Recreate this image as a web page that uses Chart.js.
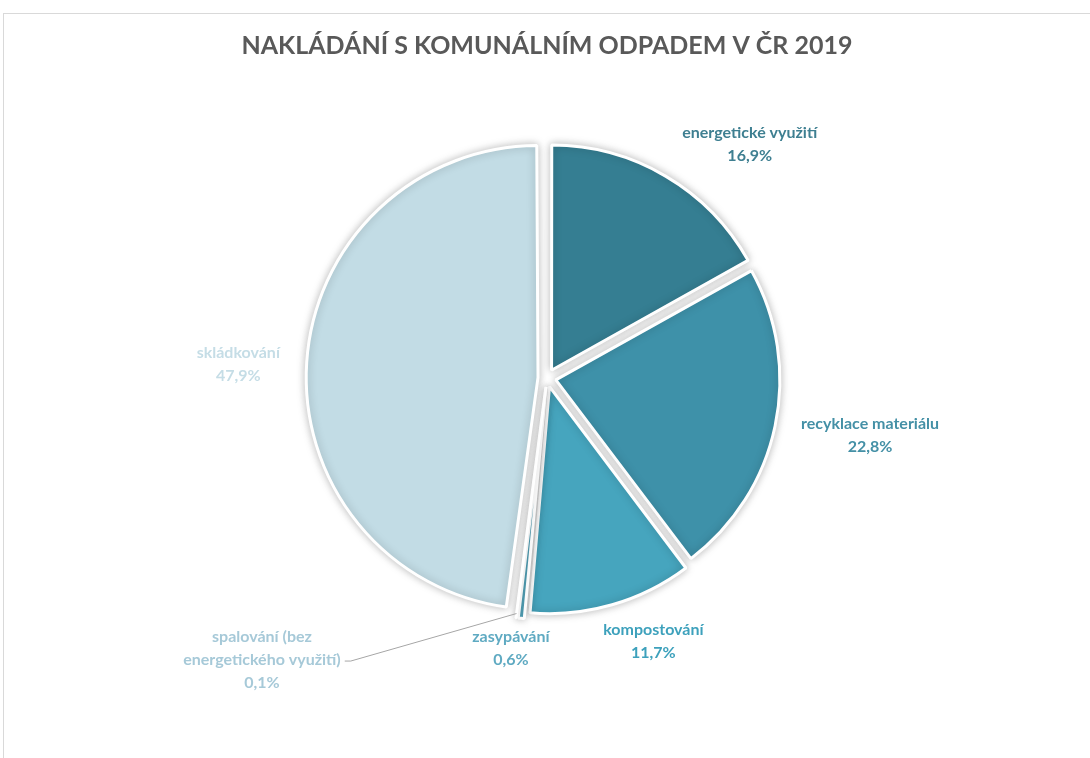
<!DOCTYPE html>
<html>
<head>
    <meta charset="UTF-8">
    <title>Nakládání s komunálním odpadem v ČR 2019</title>
    <script src="https://cdn.jsdelivr.net/npm/chart.js"></script>
    <style>
        html, body {
            margin: 0;
            padding: 0;
            background: #ffffff;
            overflow: hidden;
        }
        #frame {
            position: absolute;
            left: 3px;
            top: 13px;
            width: 1100px;
            height: 760px;
            border-top: 1px solid #d9d9d9;
            border-left: 1px solid #d9d9d9;
        }
        #chart {
            position: absolute;
            left: 0;
            top: 0;
        }
    </style>
</head>
<body>
<div id="frame"></div>
<canvas id="chart" width="1090" height="758"></canvas>

<script>
    // Data
    const categories = [
        'energetické využití',
        'recyklace materiálu',
        'kompostování',
        'zasypávání',
        'spalování (bez energetického využití)',
        'skládkování'
    ];
    const shares = [16.9, 22.8, 11.7, 0.6, 0.1, 47.9];

    // Barvy
    const sliceColors = ['#357e92', '#3e91a9', '#46a5be', '#58adc5', '#8fc3d4', '#c2dce5'];
    const labelColors = ['#3e7f91', '#4490a6', '#3da1bc', '#5faac2', '#a6c9d8', '#c5dde6'];

    // pozice popisků: [úhel od vrcholu ve stupních, vzdálenost od středu]
    const labelPlacement = [[41, 309], [100, 328], [158, 284], [187.6, 273], [225.3, 401], [272.6, 309]];

    const fmt = v => v.toFixed(1).replace('.', ',') + '%';

    function wrapText(ctx, text, maxWidth) {
        const words = text.split(' ');
        const lines = [];
        let line = '';
        words.forEach(w => {
            const test = line ? line + ' ' + w : w;
            if (ctx.measureText(test).width > maxWidth && line) {
                lines.push(line);
                line = w;
            } else {
                line = test;
            }
        });
        if (line) lines.push(line);
        return lines;
    }

    const shadowPlugin = {
        id: 'sliceShadow',
        beforeDatasetsDraw(chart) {
            chart.ctx.save();
            chart.ctx.shadowColor = 'rgba(0,0,0,0.25)';
            chart.ctx.shadowBlur = 8;
        },
        afterDatasetsDraw(chart) {
            chart.ctx.restore();
        }
    };

    const labelPlugin = {
        id: 'sliceLabels',
        afterDraw(chart) {
            const ctx = chart.ctx;
            const meta = chart.getDatasetMeta(0);
            const lineH = 23;
            ctx.save();
            ctx.font = 'bold 16px Lato';
            ctx.textAlign = 'center';
            ctx.textBaseline = 'middle';
            meta.data.forEach((arc, i) => {
                const cx = arc.x, cy = arc.y;
                const [deg, dist] = labelPlacement[i];
                const a = deg * Math.PI / 180;
                const lx = cx + Math.sin(a) * dist;
                const ly = cy - Math.cos(a) * dist;
                const lines = wrapText(ctx, categories[i], 180);
                lines.push(fmt(shares[i]));
                const top = ly - (lines.length - 1) * lineH / 2;

                // vodicí čára pro malou výseč
                if (shares[i] < 0.5) {
                    const mid = (arc.startAngle + arc.endAngle) / 2;
                    const off = (arc.options.offset || 0) / 4;
                    const r = arc.outerRadius + off * 1.5;
                    const sx = cx + Math.cos(mid) * r;
                    const sy = cy + Math.sin(mid) * r;
                    const yLine = top + (lines.length - 2) * lineH + 1;
                    const wLine = ctx.measureText(lines[lines.length - 2]).width;
                    const ex = lx + wLine / 2 + 4;
                    ctx.strokeStyle = '#a6a6a6';
                    ctx.lineWidth = 1;
                    ctx.beginPath();
                    ctx.moveTo(sx, sy);
                    ctx.lineTo(ex + 6, yLine);
                    ctx.lineTo(ex, yLine);
                    ctx.stroke();
                }

                ctx.fillStyle = labelColors[i];
                lines.forEach((t, k) => ctx.fillText(t, lx, top + k * lineH));
            });
            ctx.restore();
        }
    };

    const chart = new Chart(document.getElementById('chart').getContext('2d'), {
        type: 'pie',
        data: {
            labels: categories,
            datasets: [{
                data: shares,
                backgroundColor: sliceColors,
                borderColor: '#ffffff',
                borderWidth: 3,
                offset: 36
            }]
        },
        options: {
            responsive: false,
            animation: false,
            radius: 224,
            layout: {
                padding: { left: 4, right: 0, top: 0, bottom: 102 }
            },
            plugins: {
                legend: { display: false },
                tooltip: { enabled: false },
                title: {
                    display: true,
                    text: 'NAKLÁDÁNÍ S KOMUNÁLNÍM ODPADEM V ČR 2019',
                    color: '#595959',
                    font: { family: 'Lato', size: 25, weight: 'bold', lineHeight: 1.2 },
                    padding: { top: 31, bottom: 39 }
                }
            }
        },
        plugins: [shadowPlugin, labelPlugin]
    });
</script>
</body>
</html>
